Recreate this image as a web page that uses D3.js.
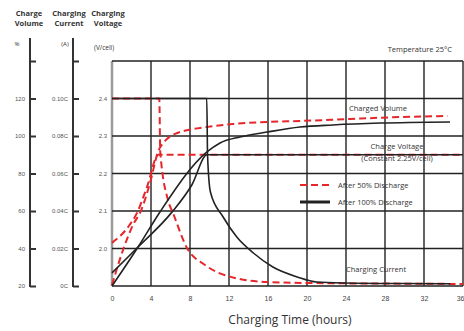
<!DOCTYPE html>
<html>
<head>
<meta charset="utf-8">
<script src="https://cdn.jsdelivr.net/npm/d3@7/dist/d3.min.js"></script>
<style>
  body { margin: 0; background: #fff; }
  svg { display: block; font-family: "Open Sans", "DejaVu Sans", sans-serif; }
</style>
</head>
<body>
<div id="chart"></div>
<script>
// x ticks (hours) and left-axis tick values
const hourTicks = [0, 4, 8, 12, 16, 20, 24, 28, 32, 36];
const voltTicks = [1.9, 2.0, 2.1, 2.2, 2.3, 2.4, 2.5];
const volumeTicks = [20, 40, 60, 80, 100, 120, 140];
const currentTicks = [0, 0.02, 0.04, 0.06, 0.08, 0.10, 0.12];

// After 50% discharge (red dashed)  [hours, value]
const volume50 = [[0, 20.5], [1.13, 39.2], [2.15, 52.5], [3.0, 60.5], [3.9, 75], [4.72, 91.5], [5.54, 97.9],
  [6.46, 101.1], [7.79, 103.2], [9.03, 104.3], [12.4, 106.4], [15.9, 107.5], [19.3, 108], [24.4, 109.1],
  [29.5, 110.1], [34.4, 110.7]];
const voltage50 = [[0, 2.015], [1.64, 2.057], [2.6, 2.097], [3.6, 2.165], [4.75, 2.25], [36, 2.25]];
const current50 = [[0, 0.10], [4.85, 0.10], [4.95, 0.0715], [5.74, 0.0459], [6.26, 0.0389], [7.69, 0.0203],
  [9.54, 0.0112], [12.6, 0.0043], [15.9, 0.0021], [20.3, 0.0016], [28, 0.0013], [36, 0.0011]];

// After 100% discharge (black)
const volume100 = [[0, 20], [2.67, 40.8], [4.92, 59.5], [9.74, 91.5], [11.08, 96.3], [13.13, 99.5],
  [15.9, 102.1], [19.28, 104.8], [22.67, 105.9], [27.5, 106.9], [34.67, 107.5]];
const voltage100 = [[0, 1.935], [2.67, 2.004], [6.15, 2.097], [8.2, 2.17], [9.74, 2.25], [36, 2.25]];
const current100 = [[0, 0.10], [9.72, 0.10], [9.8, 0.07], [10.1, 0.05], [11.4, 0.0368], [12.8, 0.0261],
  [14.5, 0.0176], [16.5, 0.0101], [19.0, 0.0048], [21.0, 0.0021], [24, 0.0016], [30, 0.0013], [34.7, 0.0012]];

const W = 464, H = 331;
const plot = { left: 112, right: 463, top: 61, bottom: 286 };
const red = '#e5262b', ink = '#222';

const svg = d3.select('#chart').append('svg').attr('width', W).attr('height', H);

const x = d3.scaleLinear().domain([0, 36]).range([plot.left, plot.right]);
const yV = d3.scaleLinear().domain([1.9, 2.5]).range([plot.bottom, plot.top]);
const yVol = d3.scaleLinear().domain([20, 140]).range([plot.bottom, plot.top]);
const yCur = d3.scaleLinear().domain([0, 0.12]).range([plot.bottom, plot.top]);

// grid
svg.append('g').selectAll('line').data(hourTicks).join('line')
  .attr('x1', d => x(d)).attr('x2', d => x(d))
  .attr('y1', plot.top).attr('y2', plot.bottom)
  .attr('stroke', d => d === 0 ? '#9a9a9a' : ink)
  .attr('stroke-width', d => d === 0 ? 2.5 : 1.4);
svg.append('g').selectAll('line').data(voltTicks).join('line')
  .attr('x1', plot.left).attr('x2', plot.right)
  .attr('y1', d => yV(d)).attr('y2', d => yV(d))
  .attr('stroke', ink).attr('stroke-width', 1.4);

// x axis labels
svg.append('g')
  .attr('transform', `translate(0,${plot.bottom})`)
  .call(d3.axisBottom(x).tickValues(hourTicks).tickSize(0).tickPadding(10))
  .call(g => g.select('.domain').remove())
  .call(g => g.selectAll('.tick text').attr('fill', '#444').style('font-size', '7px')
    .attr('text-anchor', d => d === 36 ? 'end' : 'middle')
    .attr('dx', d => d === 36 ? 1 : 0));

svg.append('text')
  .attr('x', 290).attr('y', 324)
  .attr('text-anchor', 'middle')
  .style('font-size', '12px').attr('fill', '#333')
  .text('Charging Time (hours)');

// voltage labels
svg.append('g')
  .attr('transform', `translate(${plot.left},0)`)
  .call(d3.axisLeft(yV).tickValues([2.0, 2.1, 2.2, 2.3, 2.4]).tickSize(0).tickPadding(5).tickFormat(d3.format('.1f')))
  .call(g => g.select('.domain').remove())
  .call(g => g.selectAll('.tick text').attr('fill', '#555').style('font-size', '6px'));

// separate left axes
function sideAxis(xPos, scale, ticks, fmt) {
  const g = svg.append('g').attr('transform', `translate(${xPos},0)`);
  g.append('line').attr('x1', 0).attr('x2', 0).attr('y1', 38).attr('y2', plot.bottom + 1)
    .attr('stroke', '#333').attr('stroke-width', 2);
  g.call(d3.axisLeft(scale).tickValues(ticks).tickSizeInner(-6).tickSizeOuter(0).tickPadding(5).tickFormat(fmt))
    .call(s => s.select('.domain').remove())
    .call(s => s.selectAll('.tick line').attr('stroke', '#333').attr('stroke-width', 2))
    .call(s => s.selectAll('.tick text').attr('fill', '#555').style('font-size', '6px'));
}
sideAxis(30, yVol, volumeTicks, d => d === 140 ? '' : d);
sideAxis(73, yCur, currentTicks, d => d === 0 ? '0C' : (d > 0.11 ? '' : d.toFixed(2) + 'C'));

// column headers
const heads = [['Charge', 'Volume', 29], ['Charging', 'Current', 69], ['Charging', 'Voltage', 108]];
heads.forEach(([a, b, cx]) => {
  const t = svg.append('text').attr('text-anchor', 'middle').style('font-size', '7.5px')
    .style('font-weight', 'bold').attr('fill', '#333');
  t.append('tspan').attr('x', cx).attr('y', 16).text(a);
  t.append('tspan').attr('x', cx).attr('y', 26).text(b);
});
svg.append('text').attr('x', 17).attr('y', 46).attr('text-anchor', 'middle').style('font-size', '6px').attr('fill', '#333').text('%');
svg.append('text').attr('x', 65).attr('y', 46).attr('text-anchor', 'middle').style('font-size', '6px').attr('fill', '#333').text('(A)');
svg.append('text').attr('x', 94).attr('y', 50).style('font-size', '6.5px').attr('fill', '#333').text('(V/cell)');
svg.append('text').attr('x', 452).attr('y', 52).attr('text-anchor', 'end').style('font-size', '7.5px').attr('fill', '#333').text('Temperature 25°C');

// curves
const line = (yScale) => d3.line().x(d => x(d[0])).y(d => yScale(d[1])).curve(d3.curveMonotoneX);

const redSeries = [[current50, yCur], [voltage50, yV], [volume50, yVol]];
redSeries.forEach(([data, ys]) => {
  svg.append('path').datum(data)
    .attr('fill', 'none').attr('stroke', red).attr('stroke-width', 2)
    .attr('stroke-dasharray', '7 4')
    .attr('d', line(ys));
});
const blackSeries = [[current100, yCur], [voltage100, yV], [volume100, yVol]];
blackSeries.forEach(([data, ys]) => {
  svg.append('path').datum(data)
    .attr('fill', 'none').attr('stroke', ink).attr('stroke-width', 1.6)
    .attr('d', line(ys));
});

// annotations
const note = (tx, ty, txt, anchor) => svg.append('text').attr('x', tx).attr('y', ty)
  .attr('text-anchor', anchor || 'start').style('font-size', '7.5px').attr('fill', '#333').text(txt);
note(349, 111, 'Charged Volume');
note(397, 149, 'Charge Voltage', 'middle');
note(397, 161, '(Constant 2.25V/cell)', 'middle');
note(346, 272, 'Charging Current');

// legend
svg.append('line').attr('x1', 300).attr('x2', 330).attr('y1', 185).attr('y2', 185)
  .attr('stroke', red).attr('stroke-width', 2).attr('stroke-dasharray', '7 4');
note(338, 188, 'After 50% Discharge');
svg.append('line').attr('x1', 300).attr('x2', 330).attr('y1', 202).attr('y2', 202)
  .attr('stroke', ink).attr('stroke-width', 3);
note(338, 205, 'After 100% Discharge');
</script>
</body>
</html>
